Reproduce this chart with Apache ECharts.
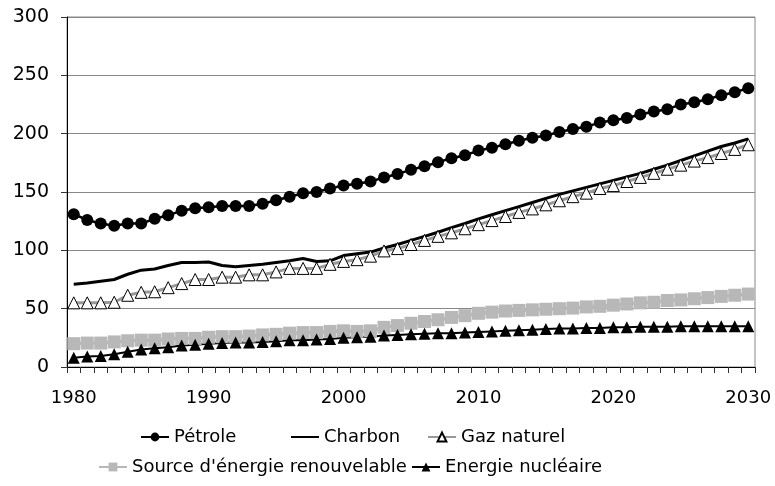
<!DOCTYPE html>
<html>
<head>
<meta charset="utf-8">
<script src="https://cdn.jsdelivr.net/npm/echarts@6/dist/echarts.min.js"></script>
<style>
  html, body { margin: 0; padding: 0; background: #fff; }
  #chart { width: 775px; height: 486px; }
</style>
</head>
<body>
<div id="chart"></div>
<script>
// années 1980 - 2030
const years = [];
for (let y = 1980; y <= 2030; y++) years.push(String(y));

const petrole = [131, 126, 123, 121, 123, 123, 127, 130, 134, 136,
    137, 138, 138, 138, 140, 143, 146, 149, 150, 153,
    155.5, 157, 159, 162.5, 165.5, 169, 172, 175.5, 179, 181.5,
    185.5, 188, 191, 194, 196.5, 198.5, 201.5, 204, 206, 209.5,
    211.5, 213.5, 216.5, 219, 221, 225, 227, 229.5, 233, 235.5,
    239];
const charbon = [71, 72, 73.5, 75, 79.5, 83, 84, 87, 89.5, 89.5,
    90, 87, 86, 87, 88, 89.5, 91, 93, 90.5, 91,
    95.5, 97, 98.5, 102, 105, 108.5, 112, 115.5, 119.5, 123,
    127, 130.5, 134, 137.5, 141, 144.5, 148, 151, 154, 157,
    160, 163, 166, 169.5, 173, 177, 181, 185, 189, 192,
    195.5];
const gaz = [55, 55, 55, 55.5, 61.5, 64, 64.5, 68, 71.5, 75,
    75, 77, 77, 79, 79, 81.5, 84.5, 84.5, 84.5, 88,
    90.5, 92, 95, 99.5, 101.5, 105, 108.5, 112, 115, 118.5,
    122, 125.5, 129, 132.5, 135.5, 139, 142.5, 146, 149, 153,
    155.5, 159, 162.5, 166, 169.5, 173, 176.5, 179.5, 183, 186.5,
    190.5];
const renouvelable = [20, 20.5, 20.5, 21.5, 22.5, 23, 23, 24, 24.5, 24.5,
    25.5, 26, 26, 26.5, 27.5, 28, 29, 29.5, 29.5, 30.5,
    31, 30.5, 31, 34, 35.5, 37.5, 39, 40.5, 42.5, 44,
    46, 47, 48, 48.5, 49, 49.5, 50, 50.5, 51.5, 52,
    53, 54, 55, 55.5, 57, 57.5, 58.5, 59.5, 60.5, 61.5,
    62.5];
const nucleaire = [8, 9, 9.5, 11, 13, 15, 16, 17, 18.5, 19,
    20, 20.5, 21, 21, 21.5, 22, 23, 23, 23.5, 24,
    25, 25.5, 26, 27, 27.5, 28, 28.5, 29, 29, 29.5,
    30, 30.5, 31, 31.5, 32, 32.5, 33, 33, 33.5, 33.5,
    34, 34, 34.5, 34.5, 34.5, 35, 35, 35, 35, 35,
    35];

const FONT = 'DejaVu Sans';
const chart = echarts.init(document.getElementById('chart'));

const legendText = { color: '#000', fontSize: 18, fontFamily: FONT };

// une légende par entrée pour placer chaque élément comme dans l'original
function legendItem(name, left, top, extra) {
    return Object.assign({
        data: [name],
        left: left, top: top,
        padding: 0,
        itemWidth: 28, itemHeight: 11,
        textStyle: legendText,
        selectedMode: false
    }, extra || {});
}

chart.setOption({
    animation: false,
    textStyle: { fontFamily: FONT },
    grid: {
        left: 67, right: 20, top: 17, bottom: 119,
        outerBoundsMode: 'none',
        show: true, borderColor: '#888', borderWidth: 1
    },
    legend: [
        legendItem('Pétrole', 140, 428),
        legendItem('Charbon', 290, 428, { data: [{ name: 'Charbon', itemStyle: { opacity: 0 } }] }),
        legendItem('Gaz naturel', 427, 428),
        legendItem("Source d'énergie renouvelable", 98, 458),
        legendItem('Energie nucléaire', 411, 458)
    ],
    xAxis: {
        type: 'category',
        data: years,
        boundaryGap: true,
        axisLine: { lineStyle: { color: '#000', width: 1 } },
        axisTick: { show: true, interval: 0, length: 6, lineStyle: { color: '#333' } },
        axisLabel: { interval: 9, color: '#000', fontSize: 18, margin: 22 },
        splitLine: { show: false }
    },
    yAxis: {
        type: 'value',
        min: 0, max: 300, interval: 50,
        axisLine: { show: true, lineStyle: { color: '#000', width: 1 } },
        axisTick: { show: true, length: 6, lineStyle: { color: '#333' } },
        axisLabel: { color: '#000', fontSize: 19, margin: 18 },
        splitLine: { lineStyle: { color: '#888', width: 1 } }
    },
    series: [
        {
            name: 'Pétrole', type: 'line', data: petrole,
            symbol: 'circle', symbolSize: 12, showAllSymbol: true,
            lineStyle: { color: '#000', width: 2.5 },
            itemStyle: { color: '#000' }
        },
        {
            name: 'Charbon', type: 'line', data: charbon,
            symbol: 'none',
            lineStyle: { color: '#000', width: 3 },
            itemStyle: { color: '#000' }
        },
        {
            name: 'Gaz naturel', type: 'line', data: gaz,
            symbol: 'triangle', symbolSize: 12, showAllSymbol: true,
            lineStyle: { color: '#999', width: 3 },
            itemStyle: { color: '#fff', borderColor: '#000', borderWidth: 1 }
        },
        {
            name: "Source d'énergie renouvelable", type: 'line', data: renouvelable,
            symbol: 'rect', symbolSize: 13, showAllSymbol: true,
            lineStyle: { color: '#b8b8b8', width: 3.5 },
            itemStyle: { color: '#b8b8b8' }
        },
        {
            name: 'Energie nucléaire', type: 'line', data: nucleaire,
            symbol: 'triangle', symbolSize: 12, showAllSymbol: true,
            lineStyle: { color: '#000', width: 2 },
            itemStyle: { color: '#000' }
        }
    ]
});
</script>
</body>
</html>
